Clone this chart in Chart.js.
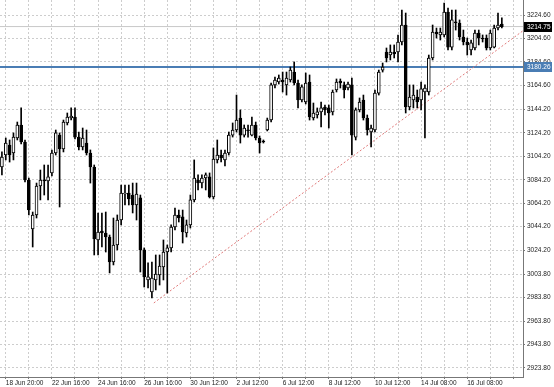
<!DOCTYPE html>
<html>
<head>
<meta charset="utf-8">
<script src="https://cdn.jsdelivr.net/npm/chart.js@4.4.0/dist/chart.umd.min.js"></script>
<style>
  html, body { margin: 0; padding: 0; background: #fff; }
  #wrap { width: 554px; height: 387px; position: relative; }
</style>
</head>
<body>
<div id="wrap"><canvas id="priceChart"></canvas></div>
<script>
// H4 candles
const opens = [
  3095.1, 3105.3, 3113.8, 3107.0, 3119.8, 3130.9, 3116.4, 3084.0, 3042.2, 3054.2,
  3078.9, 3084.0, 3083.2, 3090.0, 3107.0, 3122.3, 3110.4, 3132.6, 3136.8, 3137.7,
  3120.6, 3112.1, 3115.5, 3107.0, 3095.1, 3032.9, 3040.5, 3038.8, 3035.4, 3014.1,
  3028.6, 3049.9, 3072.1, 3072.9, 3071.2, 3062.7, 3068.7, 3024.4, 2998.8, 2988.6,
  2998.8, 3003.1, 3009.9, 3022.6, 3026.1, 3043.9, 3054.2, 3052.5, 3038.8, 3045.7,
  3067.0, 3084.0, 3081.4, 3085.7, 3086.6, 3069.5, 3101.1, 3105.3, 3101.1, 3107.0,
  3122.3, 3126.6, 3136.8, 3122.3, 3126.6, 3122.3, 3130.9, 3119.8, 3117.2, 3126.6,
  3135.1, 3165.0, 3167.5, 3169.2, 3165.0, 3169.2, 3176.0, 3166.7, 3152.2, 3150.5,
  3167.5, 3136.8, 3139.4, 3142.0, 3146.2, 3145.4, 3142.0, 3160.7, 3168.4, 3165.0,
  3162.4, 3165.0, 3120.6, 3143.7, 3152.2, 3136.8, 3124.9, 3126.6, 3158.1, 3177.7,
  3193.1, 3190.5, 3193.1, 3193.1, 3201.6, 3216.1, 3146.2, 3152.2, 3154.7, 3152.2,
  3159.0, 3159.0, 3188.0, 3210.1, 3207.6, 3207.6, 3227.2, 3197.3, 3218.7, 3217.8,
  3205.9, 3201.6, 3194.8, 3196.5, 3209.3, 3205.0, 3205.0, 3196.5, 3197.3, 3213.5,
  3216.9
];
const highs = [
  3107.9, 3119.8, 3118.1, 3124.1, 3133.4, 3145.4, 3118.1, 3085.7, 3056.7, 3081.4,
  3092.5, 3096.8, 3096.8, 3109.6, 3126.6, 3124.1, 3135.1, 3141.1, 3145.4, 3145.4,
  3124.9, 3128.3, 3126.6, 3109.6, 3096.8, 3055.9, 3055.9, 3056.7, 3037.1, 3051.6,
  3054.2, 3079.7, 3079.7, 3079.7, 3081.4, 3081.4, 3071.2, 3026.1, 3013.3, 3014.1,
  3020.1, 3020.1, 3032.9, 3028.6, 3045.7, 3060.1, 3058.4, 3058.4, 3049.9, 3071.2,
  3101.1, 3088.3, 3088.3, 3090.0, 3090.0, 3111.3, 3118.1, 3109.6, 3109.6, 3124.9,
  3132.6, 3156.4, 3143.7, 3130.9, 3130.9, 3137.7, 3133.4, 3121.5, 3118.1, 3136.8,
  3166.7, 3171.8, 3173.5, 3176.0, 3176.0, 3180.3, 3184.6, 3169.2, 3165.0, 3175.2,
  3173.5, 3149.6, 3145.4, 3150.5, 3147.9, 3147.9, 3160.7, 3170.1, 3170.1, 3167.5,
  3167.5, 3170.9, 3145.4, 3153.9, 3156.4, 3139.4, 3130.9, 3160.7, 3177.7, 3183.7,
  3196.5, 3199.1, 3199.1, 3207.6, 3228.9, 3226.3, 3165.0, 3165.0, 3160.7, 3167.5,
  3165.0, 3190.5, 3216.1, 3213.5, 3213.5, 3234.8, 3230.6, 3228.9, 3228.9, 3220.4,
  3211.8, 3205.0, 3203.3, 3211.8, 3211.8, 3207.6, 3207.6, 3211.8, 3216.1, 3226.3,
  3222.1
];
const lows = [
  3088.3, 3101.1, 3099.3, 3101.1, 3118.1, 3114.7, 3082.3, 3054.2, 3026.9, 3051.6,
  3067.0, 3071.2, 3067.0, 3087.4, 3105.3, 3061.0, 3107.9, 3130.9, 3135.1, 3118.9,
  3109.6, 3109.6, 3105.3, 3081.4, 3020.1, 3020.1, 3026.9, 3022.6, 3004.8, 3011.6,
  3024.4, 3045.7, 3062.7, 3062.7, 3055.9, 3049.9, 3005.6, 2992.8, 2992.0, 2983.4,
  2990.3, 2994.5, 2998.8, 2987.7, 3022.6, 3041.4, 3048.2, 3030.3, 3035.4, 3043.1,
  3065.3, 3075.5, 3077.2, 3075.5, 3068.7, 3067.8, 3098.5, 3099.3, 3095.9, 3105.3,
  3120.6, 3124.9, 3115.5, 3120.6, 3120.6, 3121.5, 3118.1, 3107.0, 3115.5, 3125.8,
  3133.4, 3162.4, 3165.8, 3159.0, 3156.4, 3167.5, 3165.0, 3145.4, 3150.5, 3148.8,
  3135.1, 3135.1, 3136.8, 3129.2, 3139.4, 3128.3, 3139.4, 3159.0, 3162.4, 3153.9,
  3160.7, 3105.3, 3118.1, 3142.0, 3135.1, 3122.3, 3112.1, 3124.9, 3156.4, 3176.0,
  3184.6, 3186.3, 3188.0, 3184.6, 3199.1, 3141.1, 3143.7, 3145.4, 3145.4, 3143.7,
  3119.8, 3156.4, 3186.3, 3205.0, 3203.3, 3205.9, 3194.8, 3194.8, 3211.8, 3203.3,
  3199.1, 3190.5, 3190.5, 3194.8, 3199.1, 3201.6, 3194.8, 3194.8, 3196.5, 3211.8,
  3213.5
];
const closes = [
  3103.6, 3115.5, 3105.3, 3120.6, 3130.9, 3116.4, 3084.0, 3058.4, 3054.2, 3078.9,
  3084.0, 3083.2, 3086.6, 3107.0, 3124.1, 3110.4, 3133.4, 3137.7, 3138.5, 3120.6,
  3112.1, 3119.8, 3107.0, 3095.1, 3033.7, 3039.7, 3038.8, 3035.4, 3014.1, 3028.6,
  3049.9, 3072.9, 3072.9, 3067.8, 3062.7, 3072.1, 3024.4, 3001.4, 3001.4, 3000.5,
  3003.9, 3010.7, 3022.6, 3026.1, 3043.9, 3054.2, 3051.6, 3039.7, 3045.7, 3067.0,
  3085.7, 3081.4, 3085.7, 3088.3, 3069.5, 3101.9, 3105.3, 3102.8, 3107.0, 3122.3,
  3126.6, 3135.1, 3122.3, 3128.3, 3125.8, 3130.9, 3119.8, 3115.5, 3116.4, 3135.1,
  3165.0, 3169.2, 3170.9, 3167.5, 3170.9, 3177.7, 3166.7, 3152.2, 3163.3, 3166.7,
  3137.7, 3141.1, 3142.0, 3145.4, 3143.7, 3141.1, 3159.0, 3167.5, 3166.7, 3160.7,
  3165.8, 3122.3, 3143.7, 3150.5, 3136.8, 3126.6, 3128.3, 3158.1, 3176.0, 3180.3,
  3188.0, 3193.1, 3191.4, 3201.6, 3216.1, 3146.2, 3154.7, 3156.4, 3150.5, 3161.6,
  3162.4, 3188.0, 3210.1, 3208.4, 3210.1, 3227.2, 3197.3, 3220.4, 3217.8, 3205.9,
  3201.6, 3199.1, 3200.8, 3209.3, 3205.0, 3204.2, 3196.5, 3209.3, 3213.5, 3216.1,
  3214.75
];

// time axis: a label every 12 bars (grid every 6), first at bar 1
const dateLabels = ['18 Jun 20:00', '22 Jun 16:00', '24 Jun 16:00', '26 Jun 16:00', '30 Jun 12:00',
  '2 Jul 12:00', '6 Jul 12:00', '8 Jul 12:00', '10 Jul 12:00', '14 Jul 08:00', '16 Jul 08:00'];
const slotCount = 136; // bars + empty space on the right

const priceTicks = [3224.60, 3204.60, 3184.60, 3164.60, 3144.20, 3124.20, 3104.20, 3084.20,
  3064.20, 3044.20, 3024.20, 3003.80, 2983.80, 2963.80, 2943.80, 2923.80];

const bidPrice = 3214.75;
const levelPrice = 3180.26;
const trendX = [39.5, 135.5];
const trendY = [2979.2, 3211.2];

const FONT = { family: 'Liberation Sans', size: 6.5 };

document.addEventListener('DOMContentLoaded', () => {
    const wicks = lows.map((l, i) => ({ x: i, y: [l, highs[i]] }));
    const bodies = opens.map((o, i) => ({ x: i, y: [o, closes[i]] }));
    const bodyFill = opens.map((o, i) => closes[i] >= o ? '#ffffff' : '#000000');

    const gridTicks = [];
    for (let v = 1; v < slotCount; v += 6) gridTicks.push(v);

    const priceTags = {
        id: 'priceTags',
        afterDraw(chart) {
            const { ctx, chartArea, scales } = chart;
            const tags = [[bidPrice, '#000000'], [levelPrice, '#4a7db4']];
            ctx.save();
            ctx.font = FONT.size + 'px ' + FONT.family;
            ctx.textBaseline = 'middle';
            tags.forEach(([v, col]) => {
                const py = Math.round(scales.y.getPixelForValue(v));
                ctx.fillStyle = col;
                ctx.fillRect(chartArea.right + 1, py - 5, 28, 10);
                ctx.fillStyle = '#ffffff';
                ctx.fillText(v.toFixed(2), chartArea.right + 4, py + 0.5);
            });
            ctx.restore();
        }
    };

    new Chart(document.getElementById('priceChart'), {
        type: 'bar',
        data: {
            datasets: [
                {
                    label: 'body', data: bodies, order: 1,
                    backgroundColor: bodyFill, borderColor: '#000000', borderWidth: 1,
                    borderSkipped: false, barThickness: 3, grouped: false, minBarLength: 1
                },
                {
                    label: 'wick', data: wicks, order: 2,
                    backgroundColor: '#000000', borderWidth: 0,
                    barThickness: 1, grouped: false
                },
                {
                    type: 'line', label: 'bid', order: 5,
                    data: [{ x: -0.5, y: bidPrice }, { x: slotCount - 0.5, y: bidPrice }],
                    borderColor: '#c8c8c8', borderWidth: 1, pointRadius: 0
                },
                {
                    type: 'line', label: 'level', order: 4,
                    data: [{ x: -0.5, y: levelPrice }, { x: slotCount - 0.5, y: levelPrice }],
                    borderColor: '#4a7db4', borderWidth: 2, pointRadius: 0
                },
                {
                    type: 'line', label: 'trend', order: 3,
                    data: trendX.map((x, i) => ({ x, y: trendY[i] })),
                    borderColor: '#e07a7a', borderWidth: 1, borderDash: [2, 2], pointRadius: 0
                }
            ]
        },
        options: {
            responsive: true,
            maintainAspectRatio: false,
            animation: false,
            layout: { padding: 0 },
            plugins: { legend: { display: false }, tooltip: { enabled: false } },
            scales: {
                x: {
                    type: 'linear',
                    offset: false,
                    min: -0.5,
                    max: slotCount - 0.5,
                    grid: { offset: false, color: '#cdcdcd', tickLength: 2, tickColor: '#777' },
                    border: { color: '#777', dash: [2, 2] },
                    ticks: {
                        autoSkip: false, maxRotation: 0, align: 'start', padding: 0,
                        color: '#222', font: FONT,
                        callback: v => {
                            const k = (v - 1) / 12;
                            return Number.isInteger(k) && dateLabels[k] ? dateLabels[k] : '';
                        }
                    },
                    afterBuildTicks: s => { s.ticks = gridTicks.map(v => ({ value: v })); },
                    afterFit: s => { s.height = 10; s.paddingLeft = 0; s.paddingRight = 0; }
                },
                y: {
                    position: 'right',
                    min: 2916.1,
                    max: 3237.4,
                    grid: { color: '#cdcdcd', tickLength: 2, tickColor: '#777' },
                    border: { color: '#777', dash: [2, 2] },
                    ticks: { color: '#222', font: FONT, padding: 2, callback: v => v.toFixed(2) },
                    afterBuildTicks: s => { s.ticks = priceTicks.map(v => ({ value: v })); },
                    afterFit: s => { s.width = 31; s.paddingTop = 0; s.paddingBottom = 0; }
                }
            }
        },
        plugins: [priceTags]
    });
});
</script>
</body>
</html>
